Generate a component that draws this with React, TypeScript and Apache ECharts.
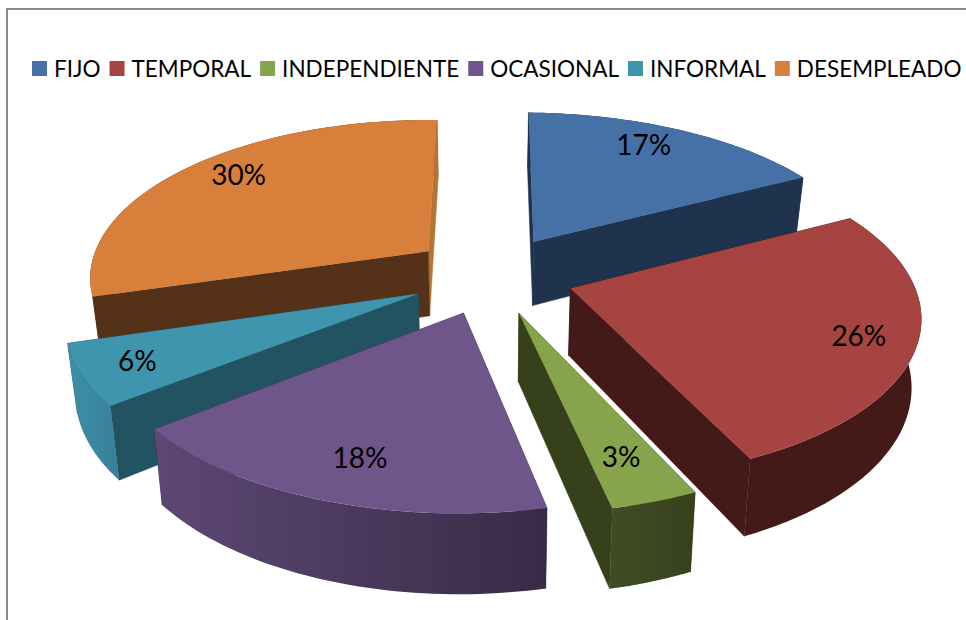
import React, { useEffect, useRef } from "react";
import * as echarts from "echarts";

const categories = ["FIJO", "TEMPORAL", "INDEPENDIENTE", "OCASIONAL", "INFORMAL", "DESEMPLEADO"];
const shares = [17, 25.8, 3.45, 17.75, 6, 30];
const topColors = ["#4671a6", "#a64442", "#87a44c", "#70558a", "#4095ae", "#d8803b"];
const cutColors = ["#1f334e", "#431a18", "#36411c", "#3c2e4e", "#215361", "#553217"];
const endColors = ["#1f334e", "#431a18", "#36411c", "#3c2e4e", "#215361", "#b57334"];
const rimLeft = ["#1f334e", "#431a18", "#404d24", "#5d4874", "#3d8fa8", "#553217"];
const rimRight = ["#1f334e", "#431a18", "#36411c", "#392b47", "#37809a", "#553217"];
const paintOrder = [0, 5, 4, 1, 3, 2];
const labelTurn = [-3, 1, 0.45, -1.5, 0, 3.7];
const labelReach = [0.815, 0.84, 0.795, 0.8, 0.845, 0.825];

const CX = 492, CY = 276, RX = 341, RY = 158, K = 0.15, DEPTH = 66, LEAN = 0.023, EXPLODE = 0.24;
const BACK_DRIFT = 4, BACK_EXPLODE = 1.1, LABEL_LIFT = 2;
const START = (1.2 * Math.PI) / 180;

const project = (x: number, y: number, z: number) => {
  const w = 1 + K * y;
  const drift = y > 0 ? BACK_DRIFT * y * y : 0;
  return [CX - drift + ((RX * x) / w) * (1 - LEAN * z), CY - (RY * y) / w + (DEPTH * z) / w];
};

const cumulative = shares.map((_, i) => shares.slice(0, i).reduce((a, b) => a + b, 0));
const total = shares.reduce((a, b) => a + b, 0);

function sliceGroup(index: number, value: number) {
  const a0 = START + (cumulative[index] / total) * Math.PI * 2;
  const a1 = a0 + (value / total) * Math.PI * 2;
  const mid = (a0 + a1) / 2;
  const ax = EXPLODE * Math.sin(mid);
  const cy = EXPLODE * Math.cos(mid);
  const ay = cy > 0 ? cy * BACK_EXPLODE : cy;
  const steps = 48;
  const arc: number[][] = [];
  for (let i = 0; i <= steps; i++) {
    const t = a0 + ((a1 - a0) * i) / steps;
    arc.push([ax + Math.sin(t), ay + Math.cos(t)]);
  }
  const top = (p: number[]) => project(p[0], p[1], 0);
  const low = (p: number[]) => project(p[0], p[1], 1);
  const apex = [ax, ay];
  const first = arc[0];
  const last = arc[steps];

  const rimPts = [...arc.map(top), ...arc.slice().reverse().map(low)];
  const rimFill = new echarts.graphic.LinearGradient(0, 0, 1, 0, [
    { offset: 0, color: rimLeft[index] },
    { offset: 1, color: rimRight[index] },
  ]);

  const wall = (pts: number[][], fill: any, depth: number) => ({
    depth,
    el: {
      type: "polygon",
      shape: { points: pts },
      style: { fill, stroke: typeof fill === "string" ? fill : undefined, lineWidth: 0.5 },
    },
  });
  const avg = (ys: number[]) => ys.reduce((a, b) => a + b, 0) / ys.length;
  const walls = [
    wall(rimPts, rimFill, avg(arc.map((p) => p[1]))),
    wall([top(apex), top(first), low(first), low(apex)], cutColors[index], (apex[1] + first[1]) / 2),
    wall([top(apex), top(last), low(last), low(apex)], endColors[index], (apex[1] + last[1]) / 2),
  ].sort((a, b) => b.depth - a.depth);

  const la = mid + (labelTurn[index] * Math.PI) / 180;
  const reach = labelReach[index];
  const lp = project(ax + reach * Math.sin(la), ay + reach * Math.cos(la), 0);

  return {
    type: "group",
    children: [
      ...walls.map((w) => w.el),
      { type: "polygon", shape: { points: [top(apex), ...arc.map(top)] }, style: { fill: topColors[index] } },
      {
        type: "text",
        style: {
          text: `${Math.round(value)}%`,
          x: lp[0],
          y: lp[1] - LABEL_LIFT,
          align: "center",
          verticalAlign: "middle",
          fill: "#000",
          font: "28px Lato",
        },
      },
    ],
  };
}

export default function App() {
  const ref = useRef<HTMLDivElement>(null);
  useEffect(() => {
    document.body.style.margin = "0";
    const chart = echarts.init(ref.current!, null, { renderer: "svg" });
    chart.setOption({
      animation: false,
      backgroundColor: "#fff",
      legend: {
        data: categories,
        left: 32,
        top: 57,
        width: 934,
        padding: 0,
        icon: "rect",
        itemWidth: 15,
        itemHeight: 15,
        itemGap: 9,
        selectedMode: false,
        textStyle: { fontFamily: "Lato", fontSize: 22.5, color: "#000", padding: [0, 0, 0, 2] },
      },
      graphic: [
        {
          type: "polyline",
          silent: true,
          shape: { points: [[7, 620], [7, 9], [966, 9]] },
          style: { stroke: "#8c8c8c", lineWidth: 2, fill: "none" },
        },
      ],
      series: paintOrder.map((i) => ({
        type: "custom",
        name: categories[i],
        coordinateSystem: "none",
        itemStyle: { color: topColors[i] },
        data: [[shares[i]]],
        renderItem: (_p: any, api: any) => sliceGroup(i, api.value(0)),
      })),
    });
    return () => chart.dispose();
  }, []);
  return <div ref={ref} style={{ width: 966, height: 620 }} />;
}
